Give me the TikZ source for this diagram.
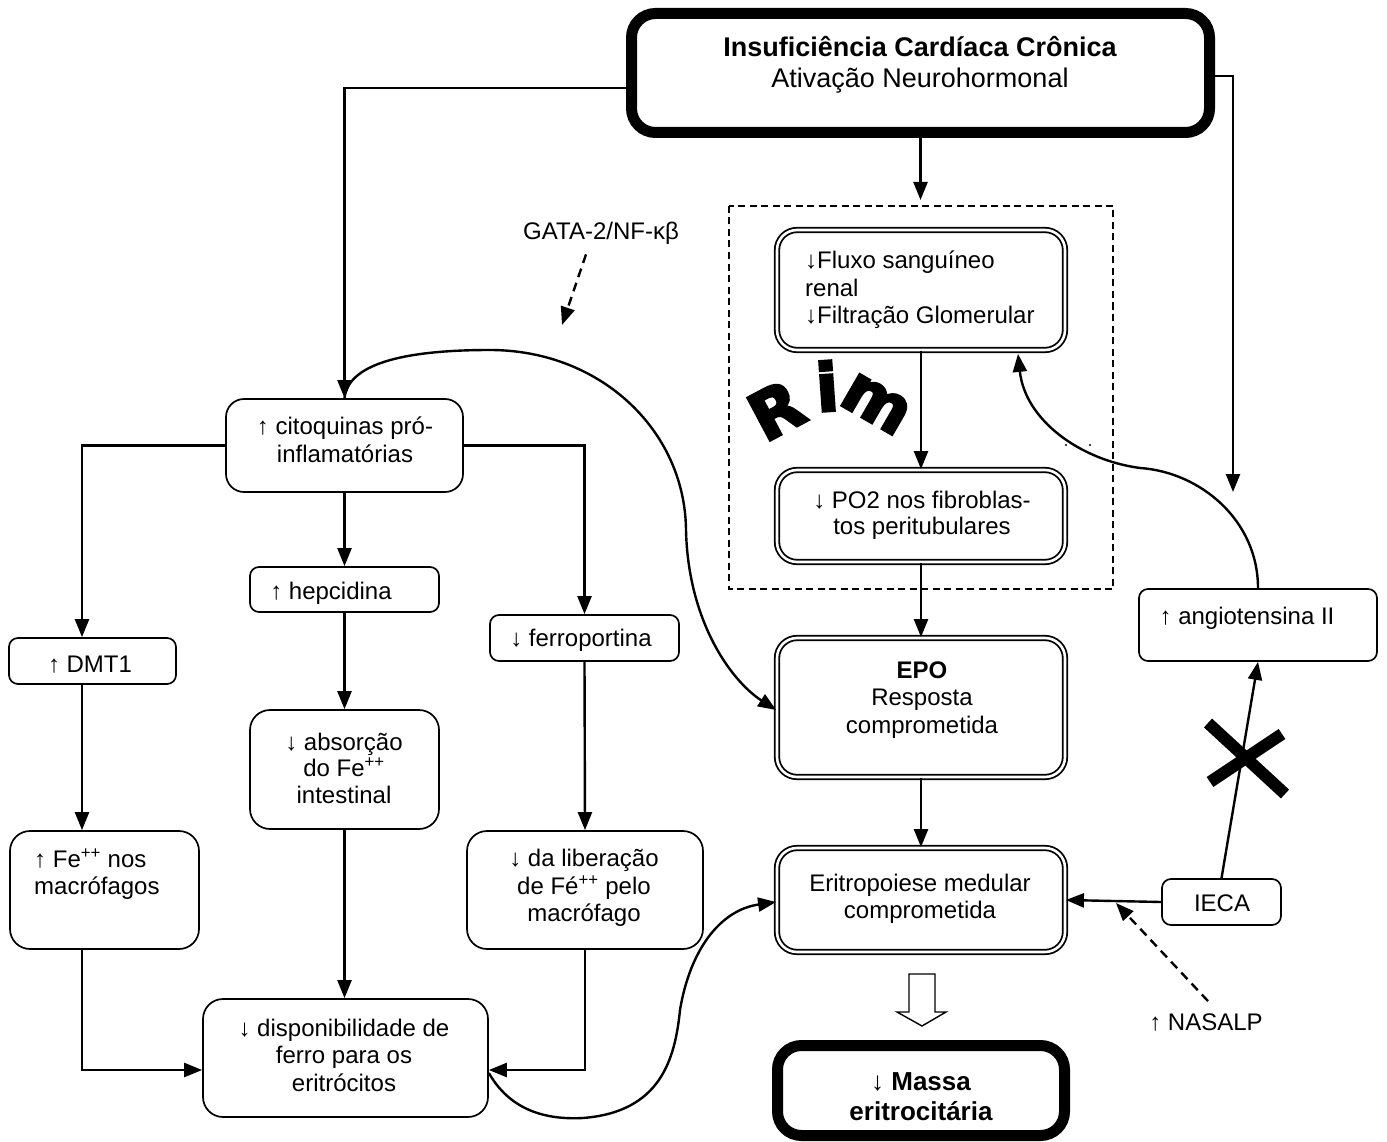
\documentclass[tikz,border=0pt]{standalone}
\usepackage{fontspec}
\setmainfont{Liberation Sans}
\newfontfamily\rimfont{DejaVu Sans}[BoldFeatures={FakeBold=4}]
\usetikzlibrary{arrows.meta,calc}
\begin{document}
\begin{tikzpicture}[x=1pt,y=-1pt,
  every node/.style={inner sep=0pt},
  box/.style={draw, line width=1.7pt, rounded corners=14pt},
  sbox/.style={draw, line width=1.7pt, rounded corners=9pt},
  dbox/.style={draw, line width=1.8pt, double, double distance=2.6pt, rounded corners=20pt},
  tbox/.style={draw, line width=11pt, rounded corners=24pt},
  txt/.style={font=\fontsize{24}{27.5}\selectfont, align=center},
  arr/.style={line width=2.4pt, -{Triangle[length=18pt,width=14pt]}},
  dasharr/.style={line width=2.4pt, dash pattern=on 9pt off 6pt, -{Triangle[length=18pt,width=14pt]}},
  rimtxt/.style={font=\rimfont\bfseries\fontsize{66}{66}\selectfont}
]
\useasboundingbox (0,0) rectangle (1387,1142);

% ---------- boxes ----------
\node[tbox, minimum width=578pt, minimum height=119pt] (icc) at (920.5,73) {};
\node[dbox, minimum width=288pt, minimum height=120pt] (fluxo) at (921,290) {};
\node[dbox, minimum width=288pt, minimum height=92pt] (po2) at (921,516) {};
\node[dbox, minimum width=288pt, minimum height=139pt] (epo) at (921,707.5) {};
\node[dbox, minimum width=288pt, minimum height=104pt] (eritro) at (921,900) {};
\node[tbox, minimum width=287pt, minimum height=90pt] (massa) at (921,1090.5) {};
\node[sbox, minimum width=238pt, minimum height=72pt] (angio) at (1258,625) {};
\node[sbox, minimum width=119pt, minimum height=46pt] (ieca) at (1221.5,902) {};
\node[box, rounded corners=18pt, minimum width=237pt, minimum height=93pt] (cit) at (344.5,445.5) {};
\node[sbox, minimum width=189pt, minimum height=45pt] (hep) at (344.5,589.5) {};
\node[sbox, minimum width=189pt, minimum height=46pt] (ferro) at (584.5,638) {};
\node[sbox, minimum width=167pt, minimum height=46pt] (dmt) at (92.5,661) {};
\node[box, rounded corners=20pt, minimum width=189pt, minimum height=119pt] (abs) at (344.5,769.5) {};
\node[box, rounded corners=20pt, minimum width=189pt, minimum height=118pt] (fe) at (104.5,890) {};
\node[box, rounded corners=20pt, minimum width=236pt, minimum height=118pt] (lib) at (585,890) {};
\node[box, rounded corners=20pt, minimum width=285pt, minimum height=118pt] (disp) at (345.5,1058) {};

% dashed kidney frame
\draw[line width=1.4pt, dash pattern=on 7pt off 4.5pt] (729,206) rectangle (1113,589);

% ---------- texts ----------
\node[font=\fontsize{27}{31}\selectfont, align=center] (t-icc) at (920,65)
  {{\bfseries Insuficiência Cardíaca Crônica}\\Ativação Neurohormonal};
\node[txt, align=left, anchor=west] (t-fluxo) at (805,290)
  {↓Fluxo sanguíneo\\renal\\↓Filtração Glomerular};
\node[txt, font=\fontsize{24}{26}\selectfont] (t-po2) at (922,515)
  {↓ PO2 nos fibroblas-\\tos peritubulares};
\node[txt] (t-epo) at (922,700) {{\bfseries EPO}\\Resposta\\comprometida};
\node[txt] (t-eritro) at (920,899) {Eritropoiese medular\\comprometida};
\node[font=\bfseries\fontsize{26}{30}\selectfont, align=center] (t-massa) at (921,1097)
  {↓ Massa\\eritrocitária};
\node[txt] (t-angio) at (1247,618) {↑ angiotensina II};
\node[txt] (t-ieca) at (1222,903) {IECA};
\node[txt] (nas) at (1206,1022) {↑ NASALP};
\node[txt] (gata) at (601,233) {GATA-2/NF-κβ};
\node[txt] (t-cit) at (345,440) {↑ citoquinas pró-\\inflamatórias};
\node[txt] (t-hep) at (331,593) {↑ hepcidina};
\node[txt] (t-ferro) at (581,640) {↓ ferroportina};
\node[txt] (t-dmt) at (90,665) {↑ DMT1};
\node[txt, font=\fontsize{24}{26.5}\selectfont] (t-abs) at (344,768)
  {↓ absorção\\do Fe\textsuperscript{++}\\intestinal};
\node[txt, align=left, anchor=west] (t-fe) at (34,874)
  {↑ Fe\textsuperscript{++} nos\\macrófagos};
\node[txt] (t-lib) at (584,888) {↓ da liberação\\de Fé\textsuperscript{++} pelo\\macrófago};
\node[txt] (t-disp) at (344,1055) {↓ disponibilidade de\\ferro para os\\eritrócitos};

% Rim (word art)
\node[rimtxt, rotate=28] (rimR) at (776,410) {R};
\node[rimtxt, rotate=4] (rimi) at (827,386) {i};
\node[rimtxt, rotate=-30] (rimm) at (876,404) {m};

% ---------- connectors ----------
\coordinate (ictip) at (920.5,200);
\coordinate (rtip) at (1233,492);
\coordinate (gatatip) at (562,325);
\coordinate (natip) at (1116,903);
\coordinate (dm1) at ($(dmt.south)+(-10.5,0)$);
\coordinate (dm0) at ($(dmt.north)+(-10.5,0)$);
\coordinate (fe1) at ($(fe.south)+(-22.5,0)$);

\draw[arr] ($(icc.west)+(0,15)$) -| (cit.north);
\draw[arr] ($(icc.east)+(0,3)$) -| (rtip);
\draw[arr] (icc.south) -- (ictip);
\draw[arr] (fluxo.south) -- (po2.north);
\draw[arr] (po2.south) -- (epo.north);
\draw[arr] (epo.south) -- (eritro.north);
\draw[arr] (ieca.west) -- (eritro.east);
\draw[arr] (ieca.north) -- (angio.south);

% blocked mark
\draw[line width=12pt] (1208,723) -- (1285,794);
\draw[line width=12pt] (1210,782) -- (1282,734);

% angiotensina -> renal flow
\draw[arr] (angio.north) .. controls (1258,520) and (1200,472) .. (1140,468)
  .. controls (1080,460) and (1025,420) .. ($(fluxo.south)+(97,3)$);
\fill (1066,445) circle (1.2pt);
\fill (1090,445) circle (1.2pt);

% hollow arrow
\draw[line width=1.4pt, fill=white] (909,974) -- (935,974) -- (935,1012) -- (946,1012)
  -- (922,1026) -- (897,1012) -- (909,1012) -- cycle;

% left tree
\draw[arr] (cit.west) -| (dm0);
\draw[arr] (cit.east) -| (ferro.north);
\draw[arr] (cit.south) -- (hep.north);
\draw[arr] (hep.south) -- (abs.north);
\draw[arr] (ferro.south) -- (lib.north);
\draw[arr] (dm1) -- (dm1 |- fe.north);
\draw[arr] (abs.south) -- (abs.south |- disp.north);
\draw[arr] (fe1) |- ($(disp.west)+(0,12)$);
\draw[arr] (lib.south) |- ($(disp.east)+(0,12)$);

% cytokines -> EPO
\draw[arr] (cit.north) .. controls (348,365) and (400,350) .. (490,350)
  .. controls (600,350) and (685,430) .. (686,530)
  .. controls (688,620) and (730,680) .. ($(epo.west)+(0,2.5)$);

% iron availability <-> erythropoiesis
\draw[arr] ($(disp.east)+(0,15)$) .. controls (510,1110) and (545,1120) .. (583,1118)
  .. controls (660,1112) and (675,1060) .. (680,1010)
  .. controls (690,950) and (720,910) .. ($(eritro.west)+(0,2)$);

% dashed influences
\draw[dasharr] ($(gata.south)+(-15,10)$) -- (gatatip);
\draw[dasharr] ($(nas.north)+(2,-12)$) -- (natip);
\end{tikzpicture}
\end{document}
